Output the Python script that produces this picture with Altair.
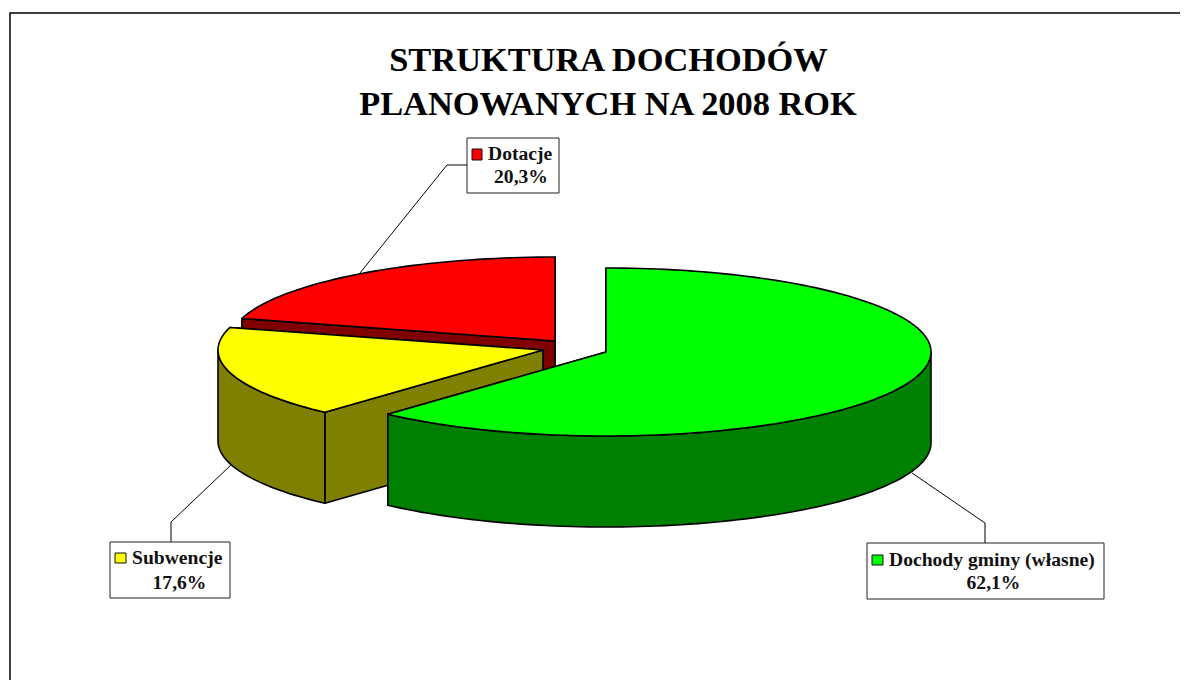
import math
import altair as alt
import pandas as pd

# --- chart values ---
CATEGORIES = ["Dochody gminy (własne)", "Subwencje", "Dotacje"]
SHARES = [62.1, 17.6, 20.3]
TOP_COLORS = ["#00FF00", "#FFFF00", "#FF0000"]
SIDE_COLORS = ["#008000", "#808000", "#800000"]
TITLE_LINES = ["STRUKTURA DOCHODÓW", "PLANOWANYCH NA 2008 ROK"]

# --- pie styling ---
CENTERS = [(606, 352), (543, 350), (555, 341)]
RX, RY, DEPTH = 325, 84, 91
TWIST = -1.4  # inner boundaries sit slightly before the exact share angle

W, H = 1172, 672
FONT = "Liberation Serif"


def boundaries():
    acc, out = 0.0, [0.0]
    for s in SHARES:
        acc += s
        out.append(acc * 3.6 + (TWIST if acc < 99.9 else 0))
    return out


def ell(c, deg, dz=0):
    t = math.radians(deg)
    return [c[0] + RX * math.sin(t), c[1] - RY * math.cos(t) + dz]


def arc(c, a, b, dz=0):
    n = max(2, int(abs(b - a) / 1.5))
    return [ell(c, a + (b - a) * i / n, dz) for i in range(n + 1)]


def feature(ring, color):
    return {
        "type": "Feature",
        "properties": {"color": color},
        "geometry": {"type": "Polygon", "coordinates": [ring + [ring[0]]]},
    }


bounds = boundaries()
features = []
order = [2, 1, 0]  # back to front
for i in order:
    c, a, b = CENTERS[i], bounds[i], bounds[i + 1]
    # cut faces: the one facing away first
    for deg in (b, a):
        p = ell(c, deg)
        ring = [list(c), p, [p[0], p[1] + DEPTH], [c[0], c[1] + DEPTH]]
        features.append(feature(ring, SIDE_COLORS[i]))
    # rim facing the viewer
    lo, hi = max(a, 90), min(b, 270)
    if lo < hi:
        ring = arc(c, lo, hi) + arc(c, hi, lo, DEPTH)
        features.append(feature(ring, SIDE_COLORS[i]))
    # top
    features.append(feature([list(c)] + arc(c, a, b), TOP_COLORS[i]))

pie = (
    alt.Chart(
        alt.InlineData(
            values={"type": "FeatureCollection", "features": features},
            format=alt.DataFormat(property="features", type="json"),
        )
    )
    .mark_geoshape(stroke="black", strokeWidth=1.6, strokeJoin="round")
    .encode(color=alt.Color("properties.color:N", scale=None))
    .project(type="identity", scale=1, translate=[-8, -8])
)

x_scale = alt.Scale(domain=[8, 8 + W], range=[0, W], nice=False, zero=False)
y_scale = alt.Scale(domain=[8, 8 + H], range=[0, H], nice=False, zero=False)
X = lambda f: alt.X(f, type="quantitative", scale=x_scale, axis=None)
Y = lambda f: alt.Y(f, type="quantitative", scale=y_scale, axis=None)

# frame and leader lines
paths = pd.DataFrame(
    [
        ("frame", 0, 10, 8 + H), ("frame", 1, 10, 13), ("frame", 2, 8 + W, 13),
    ],
    columns=["id", "o", "x", "y"],
)
leaders = pd.DataFrame(
    [
        ("a", 0, 360, 273), ("a", 1, 447, 165), ("a", 2, 467, 165),
        ("b", 0, 231, 465), ("b", 1, 171, 522), ("b", 2, 171, 542),
        ("c", 0, 912, 473), ("c", 1, 985, 523), ("c", 2, 985, 543),
    ],
    columns=["id", "o", "x", "y"],
)
frame = alt.Chart(paths).mark_line(color="black", strokeWidth=1.5).encode(
    x=X("x"), y=Y("y"), detail="id:N", order="o:Q"
)
leader = alt.Chart(leaders).mark_line(color="black", strokeWidth=1).encode(
    x=X("x"), y=Y("y"), detail="id:N", order="o:Q"
)

# label boxes
boxes_df = pd.DataFrame(
    {
        "x": [867, 110, 467], "x2": [1104, 230, 559],
        "y": [543, 542, 138], "y2": [599, 598, 193],
    }
)
boxes = alt.Chart(boxes_df).mark_rect(fill="white", stroke="#222222", strokeWidth=1).encode(
    x=X("x"), x2="x2:Q", y=Y("y"), y2="y2:Q"
)
keys_df = pd.DataFrame(
    {
        "x": [872, 115, 472], "x2": [883, 126, 482],
        "y": [555, 553, 149], "y2": [565, 563, 160],
        "c": TOP_COLORS,
    }
)
keys = alt.Chart(keys_df).mark_rect(stroke="#111111", strokeWidth=1).encode(
    x=X("x"), x2="x2:Q", y=Y("y"), y2="y2:Q", color=alt.Color("c:N", scale=None)
)

# texts
name_df = pd.DataFrame({"t": CATEGORIES, "x": [889, 132, 488], "y": [566, 564, 160]})
names = alt.Chart(name_df).mark_text(
    font=FONT, fontWeight="bold", fontSize=19.6, align="left", baseline="alphabetic", color="#111111"
).encode(x=X("x"), y=Y("y"), text="t:N")

pct_df = pd.DataFrame(
    {
        "t": [f"{s:.1f}%".replace(".", ",") for s in SHARES],
        "x": [993.5, 179.5, 521],
        "y": [589, 589, 183],
    }
)
pcts = alt.Chart(pct_df).mark_text(
    font=FONT, fontWeight="bold", fontSize=19.6, align="center", baseline="alphabetic", color="#111111"
).encode(x=X("x"), y=Y("y"), text="t:N")

title_df = pd.DataFrame({"t": TITLE_LINES, "x": [608.5, 608], "y": [71, 115]})
title = alt.Chart(title_df).mark_text(
    font=FONT, fontWeight="bold", fontSize=34.4, align="center", baseline="alphabetic", color="black"
).encode(x=X("x"), y=Y("y"), text="t:N")

chart = (
    alt.layer(frame, pie, leader, boxes, keys, names, pcts, title)
    .properties(
        width=W, height=H, padding=0, background="white",
        autosize=alt.AutoSizeParams(type="none", contains="padding"),
    )
    .configure_view(stroke=None)
)
chart.save("out.html", embed_options={"renderer": "svg", "actions": False})
